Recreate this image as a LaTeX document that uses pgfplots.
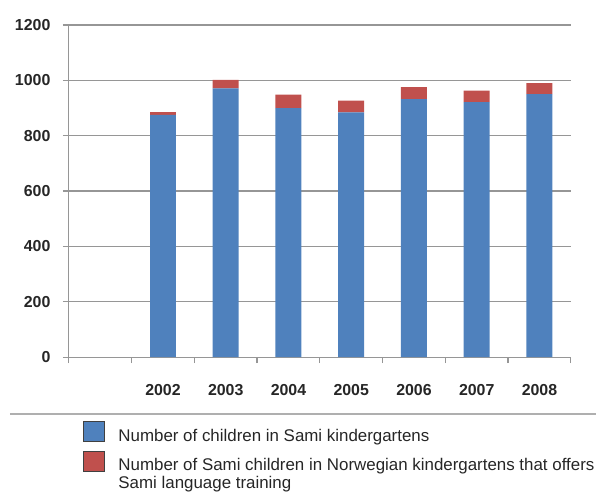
\documentclass[border=0pt]{standalone}
\usepackage{fontspec}
\setmainfont{Liberation Sans}
\usepackage{pgfplots}
\pgfplotsset{compat=1.18}
\definecolor{sblue}{RGB}{79,129,189}
\definecolor{sred}{RGB}{192,80,77}
\definecolor{gridgray}{RGB}{150,150,150}
\definecolor{sepgray}{RGB}{175,175,175}
\pgfplotsset{
  mylegend/.style={legend image code/.code={%
    \draw[##1,draw=black!75,line width=1bp] (0bp,-5.5bp) rectangle (21bp,14.5bp);}}
}
\begin{document}
\begin{tikzpicture}[x=1bp,y=1bp]
\path (0,0) rectangle (597,494);
\begin{axis}[
  at={(69bp,136bp)}, anchor=south west,
  scale only axis, width=503bp, height=333bp,
  xmin=-0.5, xmax=7.5, ymin=0, ymax=1200,
  ybar stacked, bar width=26bp,
  axis x line*=bottom, axis y line*=left,
  axis line style={gridgray, line width=1.2bp, -},
  ytick={0,200,...,1200},
  ymajorgrids, grid style={gridgray, line width=1.2bp},
  tick style={gridgray, line width=1.2bp},
  major tick length=6bp, tick align=outside,
  xtick={-0.5,0.5,...,7.5}, xticklabels={},
  extra x ticks={1,2,3,4,5,6,7},
  extra x tick labels={2002,2003,2004,2005,2006,2007,2008},
  extra x tick style={major tick length=0pt, grid=none},
  tick label style={font=\fontsize{16}{19}\selectfont\bfseries, text=black!85},
  x tick label style={yshift=-24bp},
  y tick label style={xshift=-9bp},
  /pgf/number format/assume math mode=true,
  /pgf/number format/1000 sep={},
  legend style={at={(axis description cs:0.0278,-0.1922)}, anchor=north west,
    draw=none, fill=none, inner sep=0pt, row sep=7.5bp, column sep=0pt,
    font=\fontsize{17}{18}\selectfont,
    nodes={inner sep=0pt, text=black!85},
    cells={anchor=base west}},
  legend cell align=left,
]
\addplot[fill=sblue, draw=none, mylegend] coordinates {(1,875) (2,971) (3,900) (4,884) (5,932) (6,921) (7,950)};
\addlegendentry{\hspace{13.5bp}Number of children in Sami kindergartens}
\addplot[fill=sred, draw=none, mylegend] coordinates {(1,10) (2,31) (3,48) (4,43) (5,43) (6,42) (7,40)};
\addlegendentry{\hspace{13.5bp}\vtop{\hbox{Number of Sami children in Norwegian kindergartens that offers}\hbox{Sami language training}}}
\end{axis}
\draw[sepgray, line width=2.5bp] (10,79) -- (597,79);
\end{tikzpicture}
\end{document}
